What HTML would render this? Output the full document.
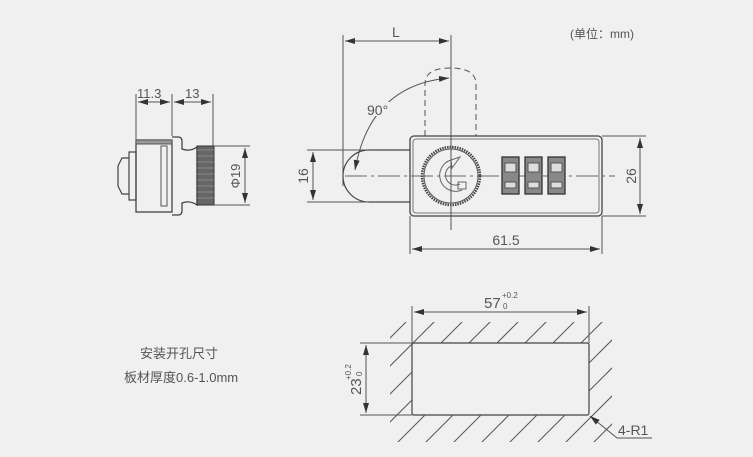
<!DOCTYPE html>
<html><head><meta charset="utf-8"><style>
html,body{margin:0;padding:0;background:#f0f0f0;}
svg{display:block}
text{font-family:"Liberation Sans Narrow","Liberation Sans","Noto Sans CJK SC",sans-serif;fill:#555;}
</style></head><body>
<svg width="753" height="457" viewBox="0 0 753 457" xmlns="http://www.w3.org/2000/svg">
<defs>
<marker id="a" viewBox="0 0 10 6" refX="10" refY="3" markerWidth="10" markerHeight="6" orient="auto-start-reverse" markerUnits="userSpaceOnUse"><path d="M0,0L10,3L0,6z" fill="#333"/></marker>
<clipPath id="hc"><path clip-rule="evenodd" d="M390,322H612V442H390Z M412,343H589V415H412Z"/></clipPath>
</defs>
<g stroke="#555" fill="none" stroke-width="1">
<line x1="136" y1="94" x2="136" y2="140"/><line x1="172" y1="94" x2="172" y2="136"/><line x1="213" y1="94" x2="213" y2="146"/>
<line x1="138" y1="102" x2="170" y2="102" marker-start="url(#a)" marker-end="url(#a)"/>
<line x1="174" y1="102" x2="211" y2="102" marker-start="url(#a)" marker-end="url(#a)"/>
<rect x="136" y="140" width="36" height="72" stroke="#444" stroke-width="1.3"/>
<rect x="136" y="140" width="36" height="4" fill="#999"/>
<rect x="161" y="146" width="6" height="60"/>
<path d="M172,137H178Q182,137 182,141V149Q190,152 197,147V205Q190,200 182,203V211Q182,215 178,215H172" stroke="#444" stroke-width="1.3"/>
<rect x="197" y="146" width="17" height="59" fill="#666" stroke="#333"/>
<g stroke="#aaa" stroke-width="0.6"><line x1="197" y1="150" x2="214" y2="150"/><line x1="197" y1="156" x2="214" y2="156"/><line x1="197" y1="162" x2="214" y2="162"/><line x1="197" y1="168" x2="214" y2="168"/><line x1="197" y1="174" x2="214" y2="174"/><line x1="197" y1="180" x2="214" y2="180"/><line x1="197" y1="186" x2="214" y2="186"/><line x1="197" y1="192" x2="214" y2="192"/><line x1="197" y1="198" x2="214" y2="198"/></g>
<rect x="129" y="152" width="7" height="48" stroke="#444" stroke-width="1.2"/>
<path d="M129,158H122L118,166V186L122,194H129" stroke="#444" stroke-width="1.2"/>
<line x1="214" y1="146" x2="250" y2="146"/><line x1="214" y1="205" x2="250" y2="205"/>
<line x1="245" y1="148" x2="245" y2="203" marker-start="url(#a)" marker-end="url(#a)"/>
<line x1="343" y1="35" x2="343" y2="186"/><line x1="451" y1="35" x2="451" y2="220"/>
<line x1="345" y1="41" x2="449" y2="41" marker-start="url(#a)" marker-end="url(#a)"/>
<path d="M425,136V84Q425,68 450,68Q476,68 476,84V136" stroke-dasharray="6,4"/>
<path d="M355,170Q370,85 449,78" marker-start="url(#a)" marker-end="url(#a)"/>
<path d="M410,150H369A26,26 0 0 0 369,202H410" stroke="#444" stroke-width="1.2"/>
<line x1="307" y1="150" x2="369" y2="150"/><line x1="307" y1="202" x2="369" y2="202"/>
<line x1="313" y1="152" x2="313" y2="200" marker-start="url(#a)" marker-end="url(#a)"/>
<rect x="410" y="136" width="192" height="80" rx="4" stroke="#444" stroke-width="1.3"/>
<rect x="413" y="139" width="186" height="74" rx="3" stroke="#777"/>
<line x1="602" y1="136" x2="646" y2="136"/><line x1="602" y1="216" x2="646" y2="216"/>
<line x1="640" y1="138" x2="640" y2="214" marker-start="url(#a)" marker-end="url(#a)"/>
<line x1="410" y1="216" x2="410" y2="254"/><line x1="602" y1="216" x2="602" y2="254"/>
<line x1="412" y1="249" x2="600" y2="249" marker-start="url(#a)" marker-end="url(#a)"/>
<line x1="345" y1="176" x2="615" y2="176" stroke-dasharray="22,4,3,4" stroke="#666"/>
<circle cx="451" cy="176" r="29" stroke="#444" stroke-width="2.5" stroke-dasharray="1.5,1"/>
<circle cx="451" cy="176" r="27" stroke="#555"/>
<path d="M451,160A16,16 0 1 0 462,190" stroke="#666" stroke-width="1"/>
<path d="M451,166A10,10 0 1 0 460,184" stroke="#666"/>
<path d="M451,160L460,157L452,168Z" stroke="#666"/>
<rect x="458" y="182" width="8" height="7" stroke="#666"/>
<g stroke="#333" stroke-width="1.3">
<rect x="502" y="157" width="17" height="37" fill="#888"/><rect x="525" y="157" width="17" height="37" fill="#888"/><rect x="548" y="157" width="17" height="37" fill="#888"/>
</g>
<g fill="#ddd" stroke="#555"><rect x="505" y="163" width="11" height="9"/><rect x="528" y="163" width="11" height="9"/><rect x="551" y="163" width="11" height="9"/>
<rect x="505" y="182" width="11" height="6"/><rect x="528" y="182" width="11" height="6"/><rect x="551" y="182" width="11" height="6"/></g>
<line x1="451" y1="128" x2="451" y2="230"/>
<line x1="412" y1="306" x2="412" y2="343"/><line x1="589" y1="306" x2="589" y2="343"/>
<line x1="414" y1="312" x2="587" y2="312" marker-start="url(#a)" marker-end="url(#a)"/>
<line x1="360" y1="343" x2="412" y2="343"/><line x1="360" y1="415" x2="412" y2="415"/>
<line x1="366" y1="345" x2="366" y2="413" marker-start="url(#a)" marker-end="url(#a)"/>
<rect x="412" y="343" width="177" height="72" rx="2" stroke="#444" stroke-width="1.2"/>
<g clip-path="url(#hc)" stroke="#555">
<line x1="380" y1="460" x2="530" y2="310"/>
<line x1="352" y1="460" x2="502" y2="310"/><line x1="324" y1="460" x2="474" y2="310"/><line x1="296" y1="460" x2="446" y2="310"/><line x1="268" y1="460" x2="418" y2="310"/>
<line x1="408" y1="460" x2="558" y2="310"/><line x1="436" y1="460" x2="586" y2="310"/><line x1="464" y1="460" x2="614" y2="310"/><line x1="492" y1="460" x2="642" y2="310"/><line x1="520" y1="460" x2="670" y2="310"/><line x1="548" y1="460" x2="698" y2="310"/><line x1="576" y1="460" x2="726" y2="310"/>
</g>
<line x1="617" y1="438" x2="590" y2="416" marker-end="url(#a)"/>
<line x1="617" y1="438" x2="652" y2="438"/>
</g>
<g font-size="14">
<text x="137" y="98" font-size="13">11.3</text>
<text x="185" y="98" font-size="13">13</text>
<text transform="translate(240,176) rotate(-90)" text-anchor="middle" font-size="13">Φ19</text>
<text x="392" y="37">L</text>
<rect x="366" y="102" width="26" height="14" fill="#f0f0f0"/>
<text x="367" y="115">90°</text>
<text transform="translate(308,176) rotate(-90)" text-anchor="middle">16</text>
<text transform="translate(636,176) rotate(-90)" text-anchor="middle">26</text>
<text x="506" y="245" text-anchor="middle">61.5</text>
<text x="484" y="308" font-size="15">57</text><text x="502" y="298" font-size="8">+0.2</text><text x="503" y="309" font-size="8">0</text>
<text transform="translate(361,395) rotate(-90)" font-size="15">23</text>
<text transform="translate(351,380) rotate(-90)" font-size="8">+0.2</text>
<text transform="translate(362,376) rotate(-90)" font-size="8">0</text>
<text x="618" y="435">4-R1</text>
<text x="570" y="38" fill="#222" font-size="12" font-family="'Liberation Sans','Noto Sans CJK SC',sans-serif">(单位：mm)</text>
<text x="140" y="358" fill="#222" font-size="13" font-family="'Liberation Serif','Noto Serif CJK SC',serif">安装开孔尺寸</text>
<text x="124" y="382" fill="#222" font-size="13" font-family="'Liberation Mono','Noto Serif CJK SC',monospace">板材厚度0.6-1.0mm</text>
</g>
</svg>
</body></html>
